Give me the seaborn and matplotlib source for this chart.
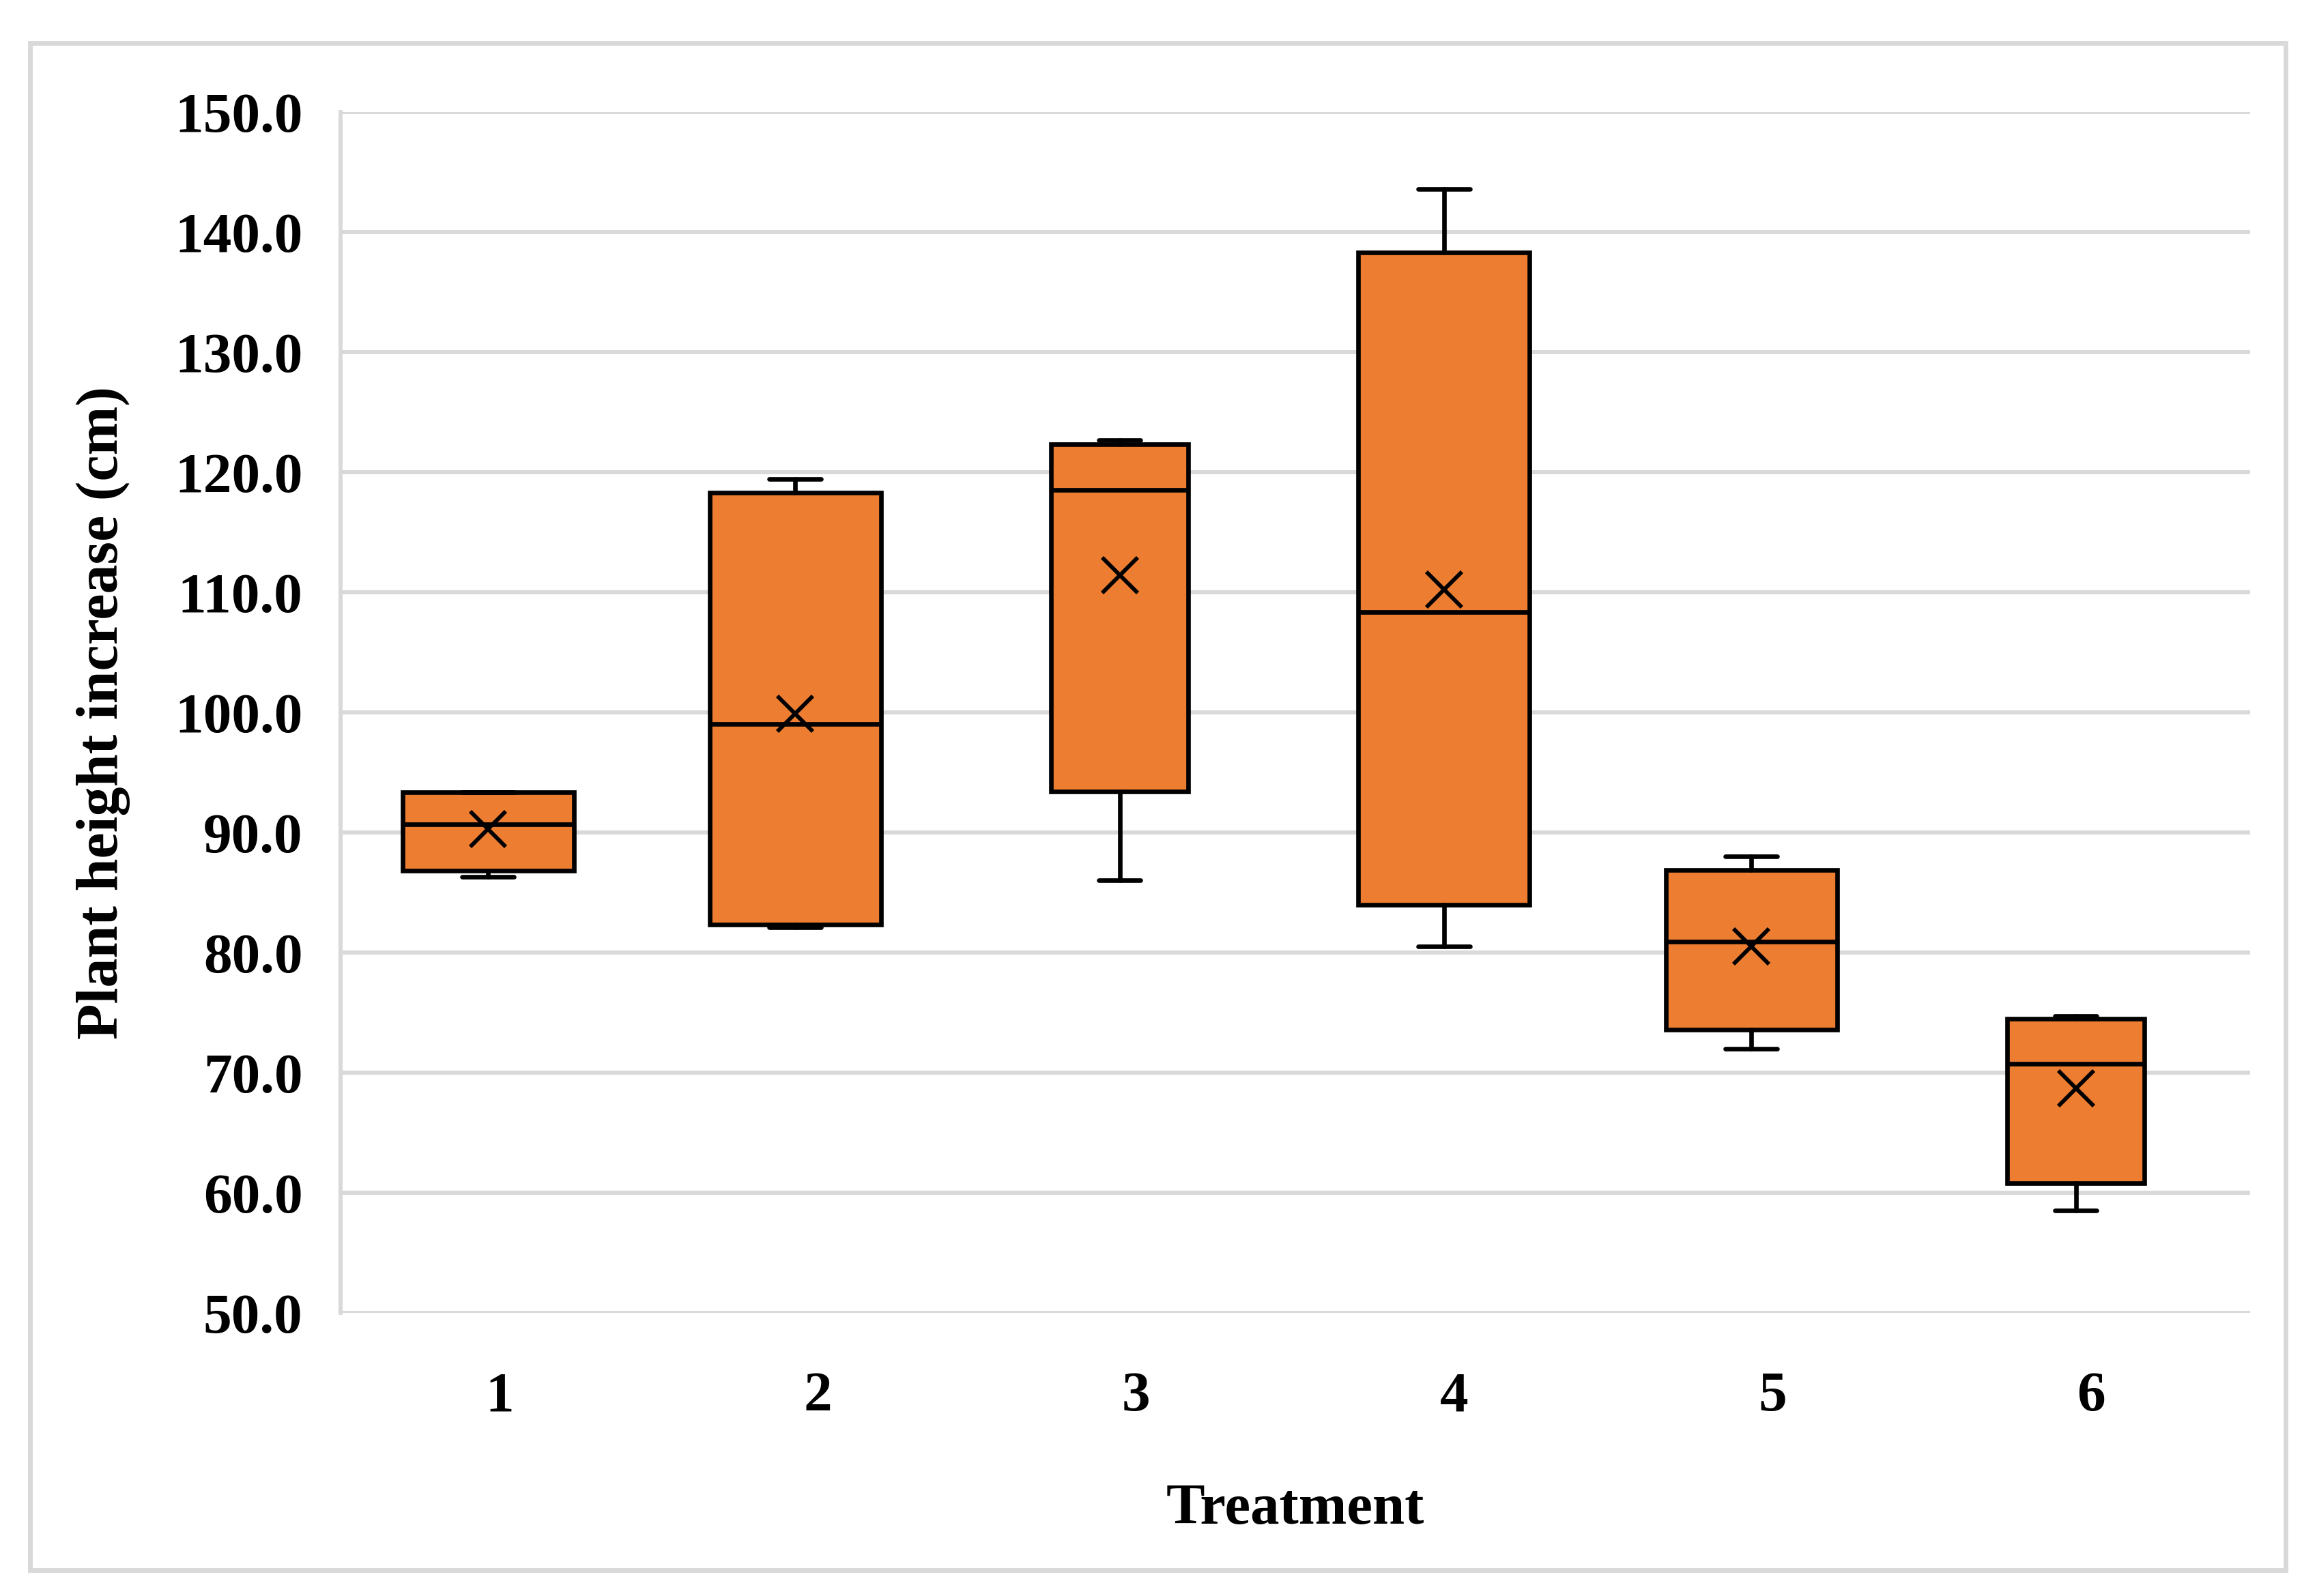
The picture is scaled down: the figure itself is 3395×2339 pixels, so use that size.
import matplotlib
matplotlib.use("Agg")
import matplotlib.pyplot as plt
from matplotlib.patches import Rectangle
import seaborn as sns

# ---------------- data ----------------
treatments = ["1", "2", "3", "4", "5", "6"]
whisker_low = [86.3, 82.1, 86.0, 80.5, 72.0, 58.55]
q1_values = [86.8, 82.35, 93.4, 84.0, 73.6, 60.8]
medians = [90.7, 99.05, 118.55, 108.35, 80.9, 70.75]
q3_values = [93.35, 118.3, 122.35, 138.3, 86.9, 74.5]
whisker_high = [93.35, 119.45, 122.65, 143.6, 88.0, 74.7]
means = [90.3, 99.9, 111.4, 110.2, 80.5, 68.7]

y_ticks = [50, 60, 70, 80, 90, 100, 110, 120, 130, 140, 150]
x_label = "Treatment"
y_label = "Plant height increase (cm)"

# ---------------- style / layout ----------------
box_pos = [-0.036, 0.929, 1.948, 2.967, 3.933, 4.953]
box_w = [0.538, 0.538, 0.431, 0.538, 0.538, 0.431]
cap_w = [0.163, 0.163, 0.131, 0.163, 0.163, 0.131]
ORANGE = "#ED7D31"
GRID = "#D9D9D9"

sns.set_theme(style="white")
plt.rcParams["font.family"] = ["Liberation Serif", "DejaVu Serif"]
plt.rcParams["font.weight"] = "bold"

fig = plt.figure(figsize=(33.95, 23.39), dpi=100)
ax = fig.add_axes([0.1470, 0.1774, 0.9711 - 0.1470, 0.9299 - 0.1774])

stats = []
for i, t in enumerate(treatments):
    stats.append(dict(label=t, whislo=whisker_low[i], q1=q1_values[i], med=medians[i],
                      q3=q3_values[i], whishi=whisker_high[i], mean=means[i], fliers=[]))

lw = 4.8
ax.bxp(stats, positions=box_pos, widths=box_w, capwidths=cap_w,
       patch_artist=True, showmeans=True, showfliers=False,
       boxprops=dict(facecolor=ORANGE, edgecolor="black", linewidth=lw),
       medianprops=dict(color="black", linewidth=lw),
       whiskerprops=dict(color="black", linewidth=lw),
       capprops=dict(color="black", linewidth=lw),
       meanprops=dict(marker="x", markersize=38, markeredgecolor="black",
                      markeredgewidth=4.2, linestyle="none"),
       zorder=3)

ax.set_xlim(-0.5, 5.5)
ax.set_ylim(50, 150)
ax.set_xticks(range(len(treatments)))
ax.set_xticklabels(treatments)
ax.set_yticks(y_ticks)
ax.set_yticklabels([f"{v:.1f}" for v in y_ticks])
ax.tick_params(axis="both", length=0, labelsize=60, colors="black")
ax.tick_params(axis="x", pad=62)
ax.tick_params(axis="y", pad=40)
for lab in ax.get_xticklabels() + ax.get_yticklabels():
    lab.set_fontweight("bold")

ax.yaxis.grid(True, color=GRID, linewidth=4.3, zorder=0)
ax.xaxis.grid(False)
ax.set_axisbelow(True)
for s in ["top", "right", "bottom"]:
    ax.spines[s].set_visible(False)
ax.spines["left"].set_color(GRID)
ax.spines["left"].set_linewidth(4.3)

ax.set_xlabel(x_label, fontsize=61, fontweight="bold", color="black")
ax.set_ylabel(y_label, fontsize=62, fontweight="bold", color="black")
ax.xaxis.set_label_coords(0.5, -0.142)
ax.yaxis.set_label_coords(-0.110, 0.5)

fig.patches.append(Rectangle((44 / 3395, 1 - 2301 / 2339), (3349 - 44) / 3395, (2301 - 63) / 2339,
                             transform=fig.transFigure, fill=False, edgecolor=GRID, linewidth=5))

fig.savefig("out.png", dpi=100, facecolor="white")
